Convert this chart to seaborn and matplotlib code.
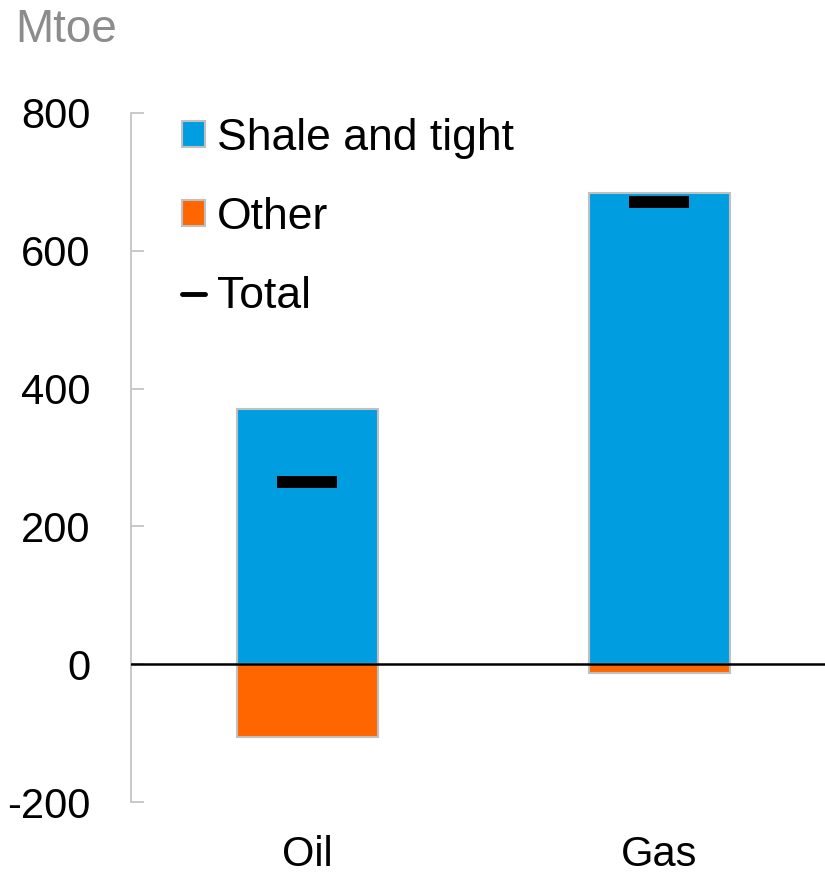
import matplotlib
matplotlib.use('Agg')
import matplotlib.pyplot as plt
import pandas as pd
import seaborn as sns
from matplotlib.patches import Patch
from matplotlib.lines import Line2D

fuels = ['Oil', 'Gas']
shale_tight = [370, 684]
other = [-106, -13]
total = [264, 671]

blue = '#009ee0'
orange = '#ff6600'
edge = '#c0c0c0'

sns.set_style('white')
plt.rcParams['font.family'] = ['Liberation Sans', 'DejaVu Sans']
plt.rcParams['axes.unicode_minus'] = False
plt.rcParams['text.color'] = 'black'

df = pd.DataFrame({'fuel': fuels, 'shale': shale_tight, 'other': other, 'total': total})

fig = plt.figure(figsize=(8.25, 8.75), dpi=100)
ax = fig.add_axes([0.1588, 0.0834, 0.8412, 0.7875])

sns.barplot(data=df, x='fuel', y='shale', color=blue, saturation=1, width=0.4,
            edgecolor=edge, linewidth=1.5, ax=ax)
sns.barplot(data=df, x='fuel', y='other', color=orange, saturation=1, width=0.4,
            edgecolor=edge, linewidth=1.5, ax=ax)
sns.scatterplot(data=df, x='fuel', y='total', marker='_', s=1806, linewidth=8.6,
                color='black', zorder=5, ax=ax)

ax.axhline(0, color='black', lw=1.8, zorder=4)

ax.set_ylim(-200, 800)
ax.set_xlim(-0.5, 1.47)
ax.set_yticks([-200, 0, 200, 400, 600, 800])
ax.set_xlabel('')
ax.set_ylabel('')

for s in ['top', 'right', 'bottom']:
    ax.spines[s].set_visible(False)
ax.spines['left'].set_color(edge)
ax.spines['left'].set_linewidth(1.2)

ax.tick_params(axis='y', left=True, direction='in', length=9.4, width=1.2, color=edge,
               pad=29, labelsize=30, labelcolor='black')
ax.tick_params(axis='x', bottom=False, length=0, pad=24, labelsize=30, labelcolor='black')

handles = [
    Patch(facecolor=blue, edgecolor=edge, lw=1.5, label='Shale and tight'),
    Patch(facecolor=orange, edgecolor=edge, lw=1.5, label='Other'),
    Line2D([], [], color='black', lw=3.5, label='Total'),
]
leg = ax.legend(handles=handles, loc='upper left', bbox_to_anchor=(0.0735, 0.993),
                frameon=False, fontsize=32, borderpad=0, borderaxespad=0,
                handlelength=0.52, handleheight=0.52, handletextpad=0.27,
                labelspacing=0.86)
for t in leg.get_texts():
    t.set_color('black')

fig.text(15 / 825, 1 - 8 / 875, 'Mtoe', color='#8c8c8c', fontsize=33, va='top', ha='left')

fig.savefig('out.png', dpi=100)
